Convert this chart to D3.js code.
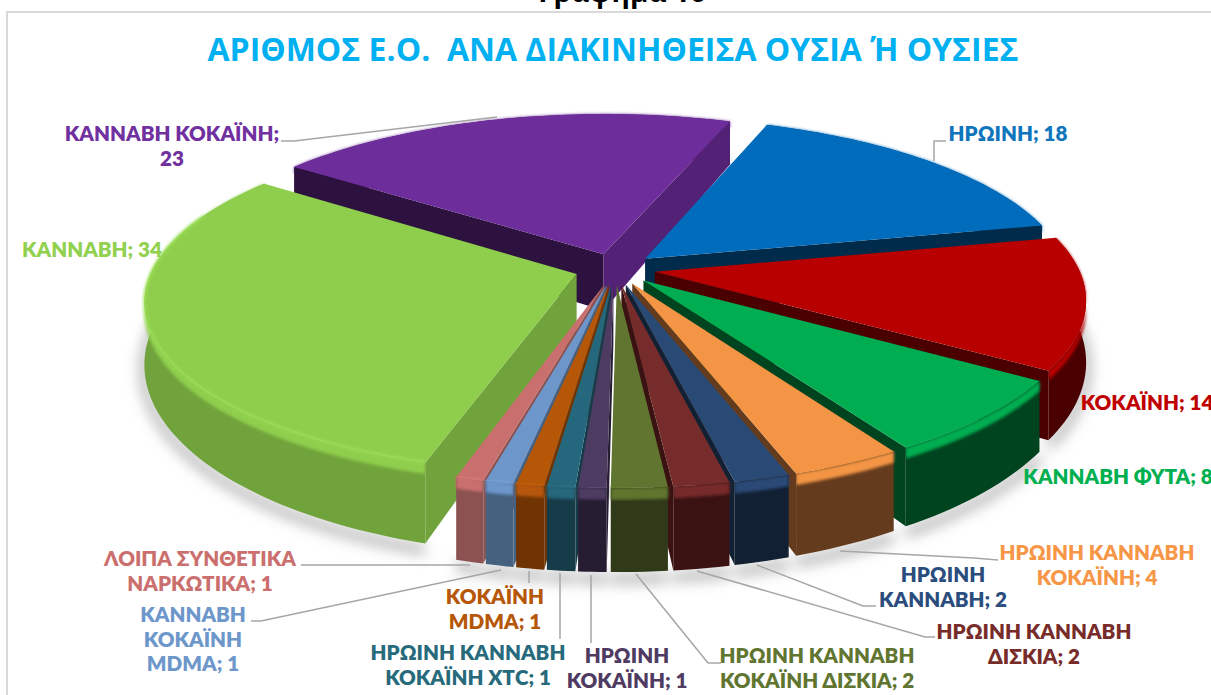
<!DOCTYPE html>
<html>
<head>
<meta charset="utf-8">
<script src="https://cdn.jsdelivr.net/npm/d3@7"></script>
<style>
html, body { margin: 0; padding: 0; background: #fff; overflow: hidden; }
text { font-family: "Open Sans", sans-serif; font-weight: 700; white-space: pre; }
.lab { font-family: Lato, "Open Sans", sans-serif; font-weight: 800; }
</style>
</head>
<body>
<svg id="chart" width="1211" height="695"></svg>
<script>
const categories = ["ΗΡΩΙΝΗ", "ΚΟΚΑΪΝΗ", "ΚΑΝΝΑΒΗ ΦΥΤΑ", "ΗΡΩΙΝΗ ΚΑΝΝΑΒΗ ΚΟΚΑΪΝΗ", "ΗΡΩΙΝΗ ΚΑΝΝΑΒΗ", "ΗΡΩΙΝΗ ΚΑΝΝΑΒΗ ΔΙΣΚΙΑ", "ΗΡΩΙΝΗ ΚΑΝΝΑΒΗ ΚΟΚΑΪΝΗ ΔΙΣΚΙΑ", "ΗΡΩΙΝΗ ΚΟΚΑΪΝΗ", "ΗΡΩΙΝΗ ΚΑΝΝΑΒΗ ΚΟΚΑΪΝΗ ΧΤC", "ΚΟΚΑΪΝΗ MDMA", "ΚΑΝΝΑΒΗ ΚΟΚΑΪΝΗ MDMA", "ΛΟΙΠΑ ΣΥΝΘΕΤΙΚΑ ΝΑΡΚΩΤΙΚΑ", "ΚΑΝΝΑΒΗ", "ΚΑΝΝΑΒΗ ΚΟΚΑΪΝΗ"]
const values = [18, 14, 8, 4, 2, 2, 2, 1, 1, 1, 1, 1, 34, 23]

const topColors = ["#006cbb", "#b80000", "#00ad50", "#f39545", "#2a4a76", "#772c2c", "#60752f", "#4e3b62", "#25687d", "#b65708", "#6d96ca", "#c96f6e", "#8fce4d", "#6d2d9a"]
const wallColors = ["#002b4b", "#4a0000", "#00431f", "#643b1c", "#122033", "#3a1212", "#303a18", "#271d33", "#163c4a", "#703403", "#446180", "#8b5251", "#70a33b", "#2d1240"]
const labelColors = ["#0f75bd", "#c00000", "#00b050", "#f79646", "#2b4d7d", "#772c2a", "#5f7530", "#4f3b62", "#276a7c", "#b65708", "#6d96cb", "#cb6f6e", "#92d050", "#7030a0"]

// label text lines and where they sit, same order as categories
const labelLines = [
    ["ΗΡΩΙΝΗ; 18"], ["ΚΟΚΑΪΝΗ; 14"], ["ΚΑΝΝΑΒΗ ΦΥΤΑ; 8"], ["ΗΡΩΙΝΗ ΚΑΝΝΑΒΗ", "ΚΟΚΑΪΝΗ; 4"], ["ΗΡΩΙΝΗ", "ΚΑΝΝΑΒΗ; 2"],
    ["ΗΡΩΙΝΗ ΚΑΝΝΑΒΗ", "ΔΙΣΚΙΑ; 2"], ["ΗΡΩΙΝΗ ΚΑΝΝΑΒΗ", "ΚΟΚΑΪΝΗ ΔΙΣΚΙΑ; 2"], ["ΗΡΩΙΝΗ", "ΚΟΚΑΪΝΗ; 1"], ["ΗΡΩΙΝΗ ΚΑΝΝΑΒΗ", "ΚΟΚΑΪΝΗ ΧΤC; 1"],
    ["ΚΟΚΑΪΝΗ", "MDMA; 1"], ["ΚΑΝΝΑΒΗ", "ΚΟΚΑΪΝΗ", "MDMA; 1"], ["ΛΟΙΠΑ ΣΥΝΘΕΤΙΚΑ", "ΝΑΡΚΩΤΙΚΑ; 1"], ["ΚΑΝΝΑΒΗ; 34"], ["ΚΑΝΝΑΒΗ ΚΟΚΑΪΝΗ;", "23"]
]
const labelPos = [[1008, 141], [1147, 410], [1118, 484], [1097, 560], [943, 582], [1034, 639], [817, 663], [627, 663], [468, 660], [495, 604], [193, 622], [200, 566], [92, 257], [172, 141]]
const leaders = [
    [[946, 141], [934, 141], [934, 161]],
    [],
    [],
    [[998, 560], [974, 558], [840, 551]],
    [[876, 606], [863, 606], [757, 565]],
    [[935, 637], [925, 637], [697, 571]],
    [[721, 663], [708, 663], [636, 574]],
    [[591, 575], [591, 643]],
    [[560, 573], [560, 639]],
    [[529, 571], [529, 583]],
    [[251, 621], [261, 621], [501, 570]],
    [[301, 565], [470, 565]],
    [],
    [[281, 141], [294, 141], [497, 117]]
]

const WIDTH = 1211, HEIGHT = 695
const centerX = 615, centerY = 269
const radiusX = 424, radiusY = 166
const perspective = 0.155
const depth = 58
const explode = 0.095
const firstAngle = 20 * Math.PI / 180

const svg = d3.select('#chart')
const x = d3.scaleLinear().domain([-1, 1]).range([centerX - radiusX, centerX + radiusX])
const y = d3.scaleLinear().domain([-1, 1]).range([centerY - radiusY, centerY + radiusY])
const line = d3.line()

const defs = svg.append('defs')
defs.append('filter').attr('id', 'soft').attr('x', '-20%').attr('y', '-20%').attr('width', '140%').attr('height', '140%')
    .append('feGaussianBlur').attr('stdDeviation', 7)
defs.append('filter').attr('id', 'bevel').attr('x', '-10%').attr('y', '-10%').attr('width', '120%').attr('height', '120%')
    .append('feGaussianBlur').attr('stdDeviation', 1.8)

// plane point (px, py) at height z (0 top of the pie, 1 its bottom) to screen
function project(px, py, z) {
    const s = 1 / (1 - py * perspective)
    return [x(px * s), y(py * s) + z * depth * s * s]
}

function arcPoints(slice, z, from = slice.startAngle, to = slice.endAngle) {
    const n = Math.max(4, Math.ceil((to - from) * 40))
    return d3.range(n + 1).map(i => {
        const a = from + (to - from) * i / n
        return project(slice.ox + Math.sin(a), slice.oy - Math.cos(a), z)
    })
}

function cutFace(slice, a) {
    const outerX = slice.ox + Math.sin(a), outerY = slice.oy - Math.cos(a)
    return [
        project(slice.ox, slice.oy, 0), project(outerX, outerY, 0),
        project(outerX, outerY, 1), project(slice.ox, slice.oy, 1)
    ]
}

function shade(color, k) {
    return d3.rgb(color).brighter(k).formatHex()
}

const pie = d3.pie().sort(null).startAngle(firstAngle).endAngle(firstAngle + 2 * Math.PI)
const slices = pie(values).map(d => {
    const mid = (d.startAngle + d.endAngle) / 2
    return { ...d, mid, ox: explode * Math.sin(mid), oy: -explode * Math.cos(mid) }
})
const drawOrder = slices.slice().sort((a, b) => a.oy - b.oy)

// frame of the chart area
svg.append('rect').attr('x', 7).attr('y', 12).attr('width', WIDTH + 20).attr('height', HEIGHT + 20)
    .attr('fill', 'none').attr('stroke', '#d9d9d9').attr('stroke-width', 2)

svg.append('text').attr('x', 622).attr('y', 2)
    .attr('text-anchor', 'middle').attr('font-size', 28).attr('fill', '#000')
    .text('Γράφημα 16')

svg.append('text').attr('x', 613).attr('y', 61)
    .attr('text-anchor', 'middle').attr('font-size', 32).attr('fill', '#00b0f0')
    .text('ΑΡΙΘΜΟΣ Ε.Ο.  ΑΝΑ ΔΙΑΚΙΝΗΘΕΙΣΑ ΟΥΣΙΑ Ή ΟΥΣΙΕΣ')

// soft ground shadow under the front of the pie
svg.append('g').attr('filter', 'url(#soft)')
    .selectAll('path')
    .data(slices)
    .join('path')
    .attr('d', d => line(arcPoints(d, 1.08)))
    .attr('fill', 'none').attr('stroke', '#b5b5b5').attr('stroke-width', 10)

const groups = svg.append('g').selectAll('g').data(drawOrder).join('g')

groups.append('path')
    .attr('d', d => line(arcPoints(d, 0).concat(arcPoints(d, 1).reverse())) + 'Z')
    .attr('fill', d => wallColors[d.index])

// rounded upper edge of the wall
groups.append('path')
    .attr('d', d => line(arcPoints(d, 0).concat(arcPoints(d, 0.14).reverse())) + 'Z')
    .attr('fill', d => topColors[d.index])
    .attr('filter', 'url(#bevel)')

// radial faces, only those turned towards the viewer
groups.each(function (d) {
    const g = d3.select(this)
    ;[d.startAngle, d.endAngle].forEach((a, i) => {
        const face = cutFace(d, a)
        if (d3.polygonArea(face) * (i == 0 ? 1 : -1) < 0) return
        // the purple slice turns one lit face to the right
        const fill = d.index == 13 && i == 1 ? d3.rgb(topColors[d.index]).darker(0.75).formatHex() : wallColors[d.index]
        g.append('path').attr('d', line(face) + 'Z').attr('fill', fill)
    })
})

groups.append('path')
    .attr('d', d => line([project(d.ox, d.oy, 0)].concat(arcPoints(d, 0))) + 'Z')
    .attr('fill', d => topColors[d.index])

// thin light line on the front rim, small slices and the big green one
groups.append('path')
    .attr('d', d => {
        const from = Math.max(d.startAngle, Math.PI * 0.99)
        const to = Math.min(d.endAngle, Math.PI * 1.62)
        return from < to ? line(arcPoints(d, 0, from, to)) : null
    })
    .attr('fill', 'none')
    .attr('stroke', d => shade(topColors[d.index], 0.3))
    .attr('stroke-width', 2)
    .attr('filter', 'url(#bevel)')

svg.append('g').selectAll('path')
    .data(leaders.filter(d => d.length))
    .join('path')
    .attr('d', d => line(d))
    .attr('fill', 'none')
    .attr('stroke', '#a6a6a6')
    .attr('stroke-width', 1.5)

const labels = svg.append('g').selectAll('text')
    .data(categories)
    .join('text')
    .attr('class', 'lab')
    .attr('x', (d, i) => labelPos[i][0])
    .attr('y', (d, i) => labelPos[i][1])
    .attr('text-anchor', 'middle')
    .attr('font-size', 20.6)
    .attr('fill', (d, i) => labelColors[i])

labels.selectAll('tspan')
    .data((d, i) => labelLines[i].map(t => ({ t, i })))
    .join('tspan')
    .attr('x', d => labelPos[d.i][0])
    .attr('dy', (d, j) => j == 0 ? 0 : 24.5)
    .text(d => d.t)
</script>
</body>
</html>
